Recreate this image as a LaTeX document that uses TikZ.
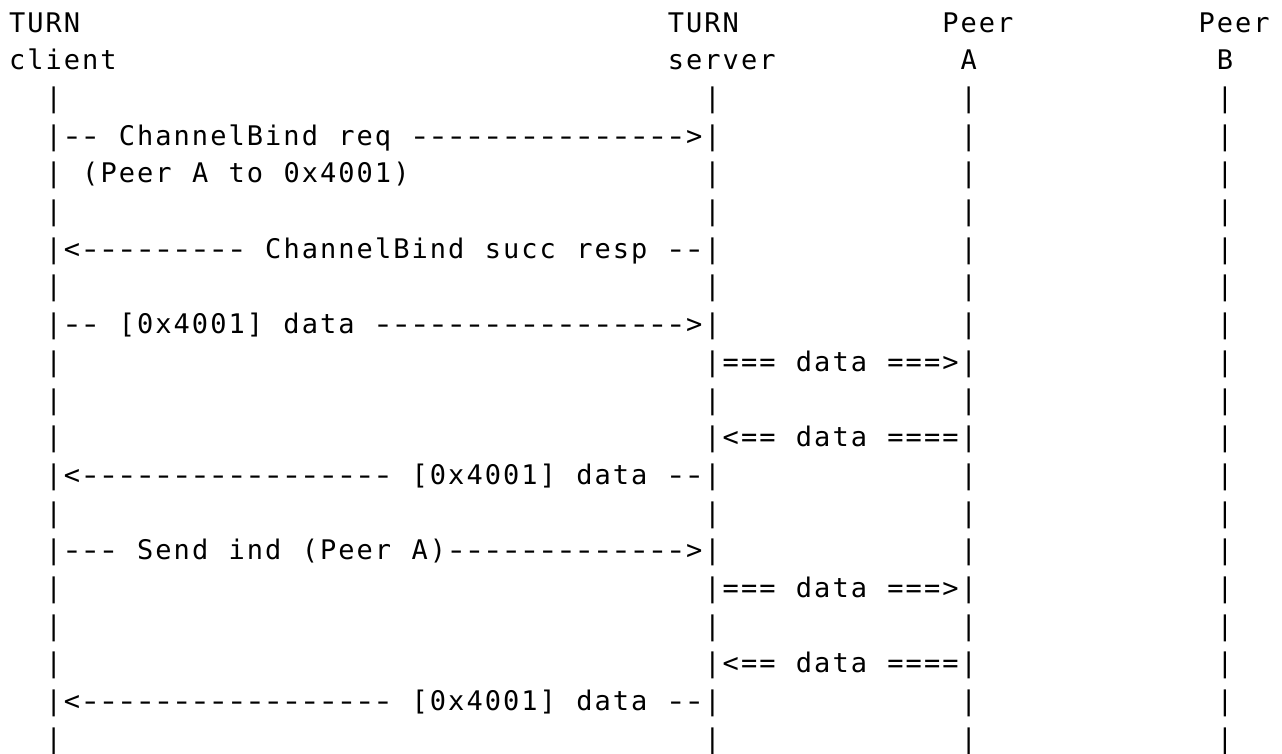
\documentclass[tikz,border=0pt]{standalone}
\usepackage{graphicx}
\usepackage{fontspec}
\setmonofont{DejaVu Sans Mono}

% one character per fixed cell, like a terminal
\newlength{\cellw}
\setlength{\cellw}{18.3pt}
\newcommand{\cells}[1]{\cellsnext#1\relax}
\def\cellsnext#1{\ifx#1\relax\else
  \makebox[\cellw]{\ifx#1-\scalebox{1.35}[1]{-}\else#1\fi}%
  \expandafter\cellsnext\fi}

\newcommand{\msg}[4]{%
  \node[ascii] (#1) at (#2, #3+0.85) {\cells{#4}};}

\tikzset{ascii/.style={anchor=base west, inner sep=0pt, outer sep=0pt,
  font=\fontsize{27pt}{30pt}\selectfont\ttfamily}}

\begin{document}
\begin{tikzpicture}[x=18.3pt, y=-37.7pt]
\fill[white] (-8pt,0pt) rectangle (1274pt,-754pt);
\useasboundingbox (-8pt,0pt) rectangle (1274pt,-754pt);

% heads
\msg{clientT}{0}{0}{TURN}
\msg{client}{0}{1}{client}
\msg{serverT}{36}{0}{TURN}
\msg{server}{36}{1}{server}
\msg{peerAT}{51}{0}{Peer}
\msg{peerA}{52}{1}{A}
\msg{peerBT}{65}{0}{Peer}
\msg{peerB}{66}{1}{B}

% life lines
\foreach \c/\n in {2/cl, 38/sv, 52/pa, 66/pb}
  \foreach \r in {2,...,19}
    \node[ascii] (\n\r) at (\c, \r+0.85) {\cells{|}};

% messages
\msg{bindreq}{3}{3}{--~ChannelBind~req~--------------->}
\msg{bindarg}{3}{4}{~(Peer~A~to~0x4001)}
\msg{bindresp}{3}{6}{<---------~ChannelBind~succ~resp~--}
\msg{chanout}{3}{8}{--~[0x4001]~data~----------------->}
\msg{relayout}{39}{9}{===~data~===>}
\msg{relayin}{39}{11}{<==~data~====}
\msg{chanin}{3}{12}{<-----------------~[0x4001]~data~--}
\msg{sendind}{3}{14}{---~Send~ind~(Peer~A)------------->}
\msg{relayoutb}{39}{15}{===~data~===>}
\msg{relayinb}{39}{17}{<==~data~====}
\msg{chaninb}{3}{18}{<-----------------~[0x4001]~data~--}

\end{tikzpicture}
\end{document}
